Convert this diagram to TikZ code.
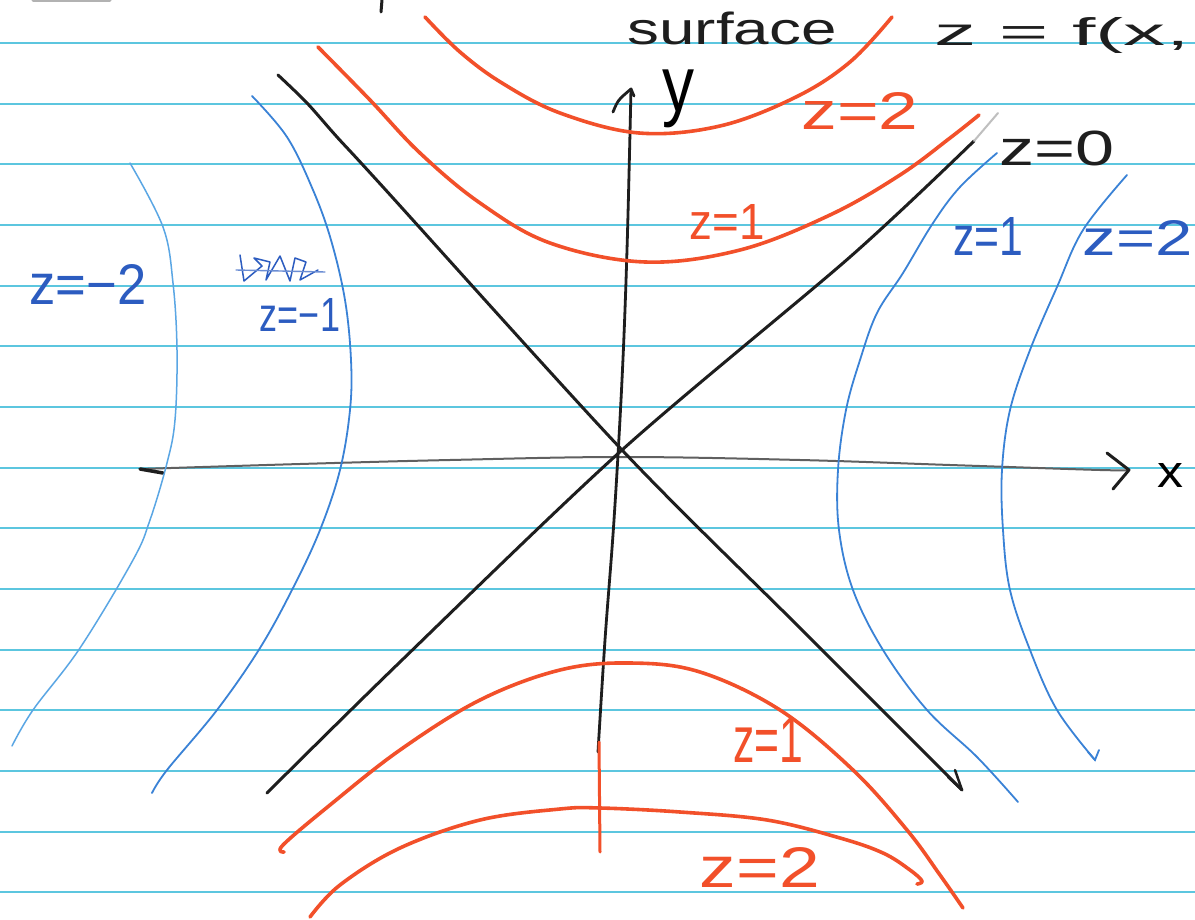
\documentclass[tikz,border=0pt]{standalone}
\usepackage{fontspec}
\setmainfont{Liberation Sans}
\definecolor{rule}{HTML}{5CC6DF}
\definecolor{penred}{HTML}{F2502A}
\definecolor{penblk}{HTML}{1E1E1E}
\definecolor{penbl}{HTML}{3A82D6}
\definecolor{penbllt}{HTML}{5AA6E4}
\definecolor{penbltx}{HTML}{2C5CC0}
\newcommand{\hwt}[3]{\resizebox*{#1}{#2}{#3}}
\begin{document}
\begin{tikzpicture}[x=1pt,y=-1pt,
  ruled/.style={rule,line width=1.6pt},
  redpen/.style={penred,line width=3.6pt,line cap=round,line join=round},
  blkpen/.style={penblk,line width=3pt,line cap=round,line join=round},
  bluepen/.style={penbl,line width=1.8pt,line cap=round},
  lbluepen/.style={penbllt,line width=1.5pt,line cap=round},
  lbl/.style={inner sep=0pt,outer sep=0pt}]
\clip (0,0) rectangle (1195,920);
\fill[white] (0,0) rectangle (1195,920);
% ruled paper
\foreach \yy in {43,104,164,225,286,346,407,468,528,589,650,710,771,832,892}
  \draw[ruled] (0,\yy) -- (1195,\yy);
% fragments at top edge
\draw[gray!60,line width=3pt,line cap=round] (33,1) -- (110,1);
\draw[penblk,line width=3pt,line cap=round] (382,0) -- (381,12);
% named coordinates
\coordinate (xL) at (140,469);
\coordinate (xR) at (1129,470);
\coordinate (yB) at (598,752);
\coordinate (yT) at (631,89);
\coordinate (dA1) at (278,75);
\coordinate (dA2) at (962,790);
\coordinate (dB1) at (267,793);
\coordinate (dB2) at (974,141);
\coordinate (O) at (622,450);
% x axis
\draw[gray!75!black,line width=2pt,line cap=round]
  plot[smooth,tension=0.6] coordinates {(xL) (300,464) (450,460) (622,457) (800,460) (950,465) (1100,470) (xR)};
\draw[penblk,line width=3.5pt,line cap=round] (xL) -- (163,473);
\draw[penblk,line width=3pt,line cap=round,line join=round] (1107,453) -- (xR) -- (1113,489);
\node[lbl] (xlab) at (1170,475) {\hwt{26pt}{24pt}{x}};
% y axis
\draw[blkpen,line width=2.8pt] plot[smooth,tension=0.6] coordinates {(yB) (605,640) (614,520) (622,380) (627,250) (yT)};
\draw[blkpen,line width=2.8pt] (613,112) .. controls (618,100) .. (yT) -- (634,96);
\node[lbl] (ylab) at (678,99) {\hwt{32pt}{58pt}{y}};
% red continuation of y axis
\draw[redpen,line width=3pt] (599,742) -- (600,852);
% black diagonals (z=0)
\draw[blkpen] plot[smooth,tension=0.5] coordinates {(dA1) (307,103) (337,137) (383,187) (O) (800,628) (dA2)};
\draw[blkpen,line width=2.5pt] (948,777) -- (dA2) -- (955,770);
\draw[blkpen] plot[smooth,tension=0.5] coordinates {(dB1) (400,662) (O) (850,257) (dB2)};
\draw[gray!50,line width=2pt,line cap=round] (dB2) -- (998,113);
\node[lbl,penblk] (z0) at (1057,148) {\hwt{115pt}{35pt}{z=0}};
% red hyperbolas top
\draw[redpen] plot[smooth,tension=0.6] coordinates {(425,17) (460,52) (502,83) (560,113) (639,133) (720,126) (796,97) (850,62) (892,17)};
\node[lbl,penred] (rz2t) at (860,111) {\hwt{117pt}{37pt}{z=2}};
\draw[redpen] plot[smooth,tension=0.6] coordinates {(318,47) (370,100) (420,153) (480,203) (550,243) (645,262) (740,250) (830,215) (900,175) (950,138) (979,115)};
\node[lbl,penred] (rz1t) at (727,222) {\hwt{75pt}{35pt}{z=1}};
% red hyperbolas bottom
\draw[redpen] plot[smooth,tension=0.6] coordinates {(284,852) (283,845) (330,805) (400,750) (480,700) (560,670) (630,663) (700,672) (780,710) (853,770) (907,830) (940,875) (963,908)};
\node[lbl,penred] (rz1b) at (768,740) {\hwt{70pt}{45pt}{z=1}};
\draw[redpen] plot[smooth,tension=0.6] coordinates {(310,917) (340,885) (400,848) (480,820) (560,809) (600,808) (680,812) (767,820) (840,838) (883,853) (910,870) (922,881) (917,884)};
\node[lbl,penred] (rz2b) at (760,867) {\hwt{120pt}{40pt}{z=2}};
% blue hyperbolas left
\draw[lbluepen] plot[smooth,tension=0.6] coordinates {(130,163) (163,227) (173,283) (177,350) (175,420) (167,463) (150,520) (133,560) (80,648) (33,710) (12,746)};
\draw[bluepen] plot[smooth,tension=0.6] coordinates {(252,96) (287,137) (313,190) (331,240) (345,300) (351,360) (350,410) (340,470) (320,530) (293,588) (260,648) (217,710) (167,770) (152,793)};
\node[lbl,penbltx] (bz2l) at (88,284) {\hwt{117pt}{40pt}{z=−2}};
\node[lbl,penbltx] (bz1l) at (300,315) {\hwt{80pt}{33pt}{z=−1}};
\draw[penbltx,line width=1.5pt,line cap=round,line join=round]
  (240,255) -- (244,281) -- (262,266) -- (254,258) -- (270,262) -- (266,280) -- (280,256) -- (290,281) -- (295,258) -- (306,262) -- (300,280) -- (318,270);
\draw[penbltx!70,line width=1.4pt,line cap=round] (236,270) -- (325,272);
% blue hyperbolas right
\draw[bluepen] plot[smooth,tension=0.6] coordinates {(997,153) (960,187) (933,223) (903,273) (877,313) (860,360) (846,410) (838,470) (839,530) (853,590) (883,650) (927,710) (977,757) (1018,802)};
\draw[bluepen] plot[smooth,tension=0.6] coordinates {(1127,175) (1083,230) (1057,287) (1030,350) (1010,410) (1002,470) (1003,530) (1010,590) (1030,650) (1057,710) (1095,760)};
\draw[bluepen] (1088,752) -- (1095,760) -- (1099,750);
\node[lbl,penbltx] (bz1r) at (988,236) {\hwt{70pt}{38pt}{z=1}};
\node[lbl,penbltx] (bz2r) at (1138,238) {\hwt{110pt}{35pt}{z=2}};
% heading
\node[lbl,penblk] (surf) at (732,28) {\hwt{209pt}{33pt}{surface}};
\node[lbl,penblk] (feq) at (1062,35) {\hwt{255pt}{36pt}{z = f(x,}};
\end{tikzpicture}
\end{document}
